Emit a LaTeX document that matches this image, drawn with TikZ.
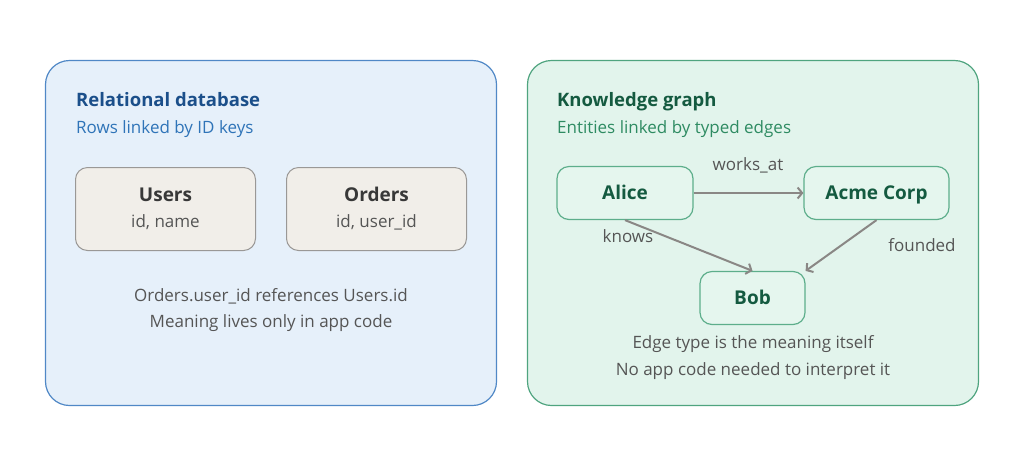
\documentclass[tikz,border=0pt]{standalone}
\usepackage{fontspec}
\setmainfont{Open Sans}
\usepackage{xcolor}
\usetikzlibrary{arrows.meta, positioning}

\definecolor{rdbfill}{HTML}{E6F0FA}
\definecolor{rdbline}{HTML}{5088C6}
\definecolor{rdbtitle}{HTML}{1B4F8A}
\definecolor{rdbsub}{HTML}{2F74B8}
\definecolor{kgfill}{HTML}{E2F4EC}
\definecolor{kgline}{HTML}{4FA47F}
\definecolor{kgtitle}{HTML}{145A40}
\definecolor{kgsub}{HTML}{2E8B62}
\definecolor{tabfill}{HTML}{F1EEE9}
\definecolor{tabline}{HTML}{9A9896}
\definecolor{entfill}{HTML}{E5F6EE}
\definecolor{entline}{HTML}{5DAE8B}
\definecolor{bodytext}{HTML}{555555}
\definecolor{edgecol}{HTML}{8A8785}

\tikzset{
  panel/.style={draw, line width=1.2pt, rounded corners=24pt, minimum width=451pt, minimum height=345pt, inner sep=0pt},
  tablebox/.style={draw=tabline, fill=tabfill, line width=1pt, rounded corners=12pt, minimum width=180pt, minimum height=83pt, align=center, text=black!78, font=\fontsize{17}{26}\selectfont},
  entity/.style={draw=entline, fill=entfill, line width=1.2pt, rounded corners=12pt, minimum height=53pt, text height=13.5pt, text depth=0pt, font=\fontsize{19}{22}\selectfont\bfseries, text=kgtitle},
  edge/.style={draw=edgecol, line width=2pt, -{Straight Barb[length=4.5pt, width=11pt]}},
  lbl/.style={font=\fontsize{17}{18}\selectfont, text=bodytext},
  ttl/.style={anchor=base west, inner sep=0pt, font=\fontsize{18.5}{22}\selectfont\bfseries},
  sub/.style={anchor=base west, inner sep=0pt, font=\fontsize{17}{18}\selectfont}
}

\begin{document}
\begin{tikzpicture}[x=1pt, y=-1pt]
\useasboundingbox (0,0) rectangle (1024,467);

% Panels
\node[panel, draw=rdbline, fill=rdbfill] (rdb) at (271,233) {};
\node[panel, draw=kgline, fill=kgfill] (kg) at (753,233) {};

% Relational side
\node[ttl, text=rdbtitle] (rdbt) at (76,106) {Relational database};
\node[sub, text=rdbsub] (rdbs) at (76,133) {Rows linked by ID keys};

\node[tablebox] (users) at (165.5,209)
  {{\fontsize{19}{22}\selectfont\bfseries Users}\\{\color{bodytext}id, name}};
\node[tablebox] (orders) at (376.5,209)
  {{\fontsize{19}{22}\selectfont\bfseries Orders}\\{\color{bodytext}id, user\_id}};

\node[lbl] (ref) at (271,296) {Orders.user\_id references Users.id};
\node[lbl] (mean) at (271,323) {Meaning lives only in app code};

% Knowledge graph side
\node[ttl, text=kgtitle] (kgt) at (557,106) {Knowledge graph};
\node[sub, text=kgsub] (kgs) at (557,133) {Entities linked by typed edges};

\node[entity, minimum width=136pt] (alice) at (625,193) {Alice};
\node[entity, minimum width=145pt] (acme) at (876.5,193) {Acme Corp};
\node[entity, minimum width=105pt] (bob) at (752.5,298) {Bob};

\draw[edge] (alice.east) -- (acme.west);
\draw[edge] (alice.south) -- (bob.north);
\draw[edge] (acme.south) -- (bob.north east);

\node[lbl] (works) at (748,165) {works\_at};
\node[lbl] (knows) at (628,236) {knows};
\node[lbl] (founded) at (922,245) {founded};

\node[lbl] (etype) at (753,344) {Edge type is the meaning itself};
\node[lbl] (noapp) at (753,371) {No app code needed to interpret it};
\end{tikzpicture}
\end{document}
